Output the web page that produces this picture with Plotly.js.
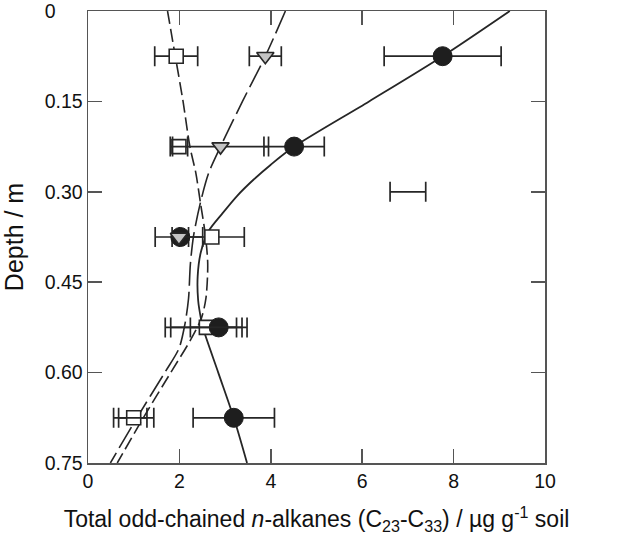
<!DOCTYPE html>
<html>
<head>
<meta charset="utf-8">
<script src="https://cdn.plot.ly/plotly-3.0.1.min.js"></script>
<style>html,body{margin:0;padding:0;background:#fff;}#chart{width:626px;height:537px;}</style>
</head>
<body>
<div id="chart"></div>
<script>
// Measured points (depth in m, concentration in µg g-1 soil)
var depths = [0.075, 0.225, 0.375, 0.525, 0.675];
var circleX = [7.76, 4.51, 2.02, 2.86, 3.19];
var circleErr = [1.28, 0.66, 0.18, 0.62, 0.89];
var squareX = [1.93, 1.99, 2.71, 2.59, 1.00];
var squareErr = [0.47, 0.19, 0.71, 0.78, 0.44];
var triangleX = [3.88, 2.90, 1.99, 2.47, 0.98];
var triangleErr = [0.35, 1.05, 0.52, 0.78, 0.31];
var triangleShown = [1, 1, 1, 0, 0];

// Stand-alone error bar
var loneDepth = [0.30];
var loneX = [7.0];
var loneErr = [0.39];

// Fitted curves
var solidDepth = [0, 0.075, 0.15, 0.225, 0.255, 0.28, 0.307, 0.335, 0.365, 0.40, 0.44, 0.48, 0.51, 0.527, 0.60, 0.675, 0.75];
var solidX = [9.23, 7.76, 6.15, 4.51, 4.0, 3.62, 3.26, 2.95, 2.64, 2.47, 2.40, 2.41, 2.47, 2.52, 2.85, 3.19, 3.48];
var shortDepth = [0, 0.075, 0.15, 0.225, 0.269, 0.318, 0.373, 0.42, 0.477, 0.51, 0.545, 0.60, 0.675, 0.75];
var shortX = [1.74, 1.91, 2.08, 2.23, 2.36, 2.46, 2.57, 2.62, 2.58, 2.48, 2.25, 1.81, 1.21, 0.64];
var longDepth = [0, 0.075, 0.15, 0.225, 0.269, 0.318, 0.373, 0.42, 0.477, 0.52, 0.56, 0.60, 0.675, 0.75];
var longX = [4.32, 3.88, 3.38, 2.90, 2.64, 2.46, 2.31, 2.24, 2.20, 2.12, 1.99, 1.68, 1.07, 0.49];

var xTicks = [0, 2, 4, 6, 8, 10];
var yTicks = [0, 0.15, 0.30, 0.45, 0.60, 0.75];
var yTickText = ['0\u00a0\u00a0\u00a0\u00a0\u00a0', '0.15', '0.30', '0.45', '0.60', '0.75'];

var ink = '#262626';
function errX(arr) {
  return {type: 'data', array: arr, visible: true, color: ink, thickness: 1.7, width: 10};
}

var traces = [
  {x: solidX, y: solidDepth, mode: 'lines', line: {color: ink, width: 1.8, shape: 'spline', smoothing: 0.8}, hoverinfo: 'skip'},
  {x: shortX, y: shortDepth, mode: 'lines', line: {color: ink, width: 1.6, dash: '13px,5px', shape: 'spline', smoothing: 0.8}, hoverinfo: 'skip'},
  {x: longX, y: longDepth, mode: 'lines', line: {color: ink, width: 1.6, dash: '24px,6px', shape: 'spline', smoothing: 0.8}, hoverinfo: 'skip'},
  {x: squareX, y: depths, mode: 'markers', error_x: errX(squareErr),
   marker: {symbol: 'square', size: 14, color: '#ffffff', line: {color: ink, width: 1.6}}},
  {x: circleX, y: depths, mode: 'markers', error_x: errX(circleErr),
   marker: {symbol: 'circle', size: 19, color: '#1e1e1e', line: {color: '#1e1e1e', width: 1}}},
  {x: triangleX, y: depths, mode: 'markers', error_x: errX(triangleErr),
   marker: {symbol: 'triangle-down', size: 15, color: '#c4c4c4', opacity: triangleShown, line: {color: ink, width: 1.6}}},
  {x: loneX, y: loneDepth, mode: 'markers', error_x: errX(loneErr),
   marker: {size: 1, color: 'rgba(0,0,0,0)'}}
];

var axisCommon = {
  showline: true, linecolor: '#555', linewidth: 1.5, mirror: 'ticks',
  ticks: 'inside', ticklen: 14, tickwidth: 1.5, tickcolor: '#555',
  showgrid: false, zeroline: false, ticklabeloverflow: 'allow',
  tickfont: {family: 'Liberation Sans, Arial, sans-serif', size: 19.5, color: '#111'}
};

var layout = {
  width: 626, height: 537,
  margin: {l: 88, r: 81, t: 11, b: 74},
  paper_bgcolor: '#fff', plot_bgcolor: '#fff',
  showlegend: false,
  font: {family: 'Liberation Sans, Arial, sans-serif', color: '#111'},
  xaxis: Object.assign({}, axisCommon, {
    range: [0, 10], tickvals: xTicks,
    title: {text: 'Total odd-chained <i>n</i>-alkanes (C<sub>23</sub>-C<sub>33</sub>) / µg g<sup>-1</sup> soil',
            font: {size: 23, color: '#111'}, standoff: 20}
  }),
  yaxis: Object.assign({}, axisCommon, {
    range: [0.75, 0], tickvals: yTicks, ticktext: yTickText,
    title: {text: 'Depth / m', font: {size: 25, color: '#111'}, standoff: 14}
  })
};

Plotly.newPlot('chart', traces, layout, {staticPlot: true, displayModeBar: false});
</script>
</body>
</html>
